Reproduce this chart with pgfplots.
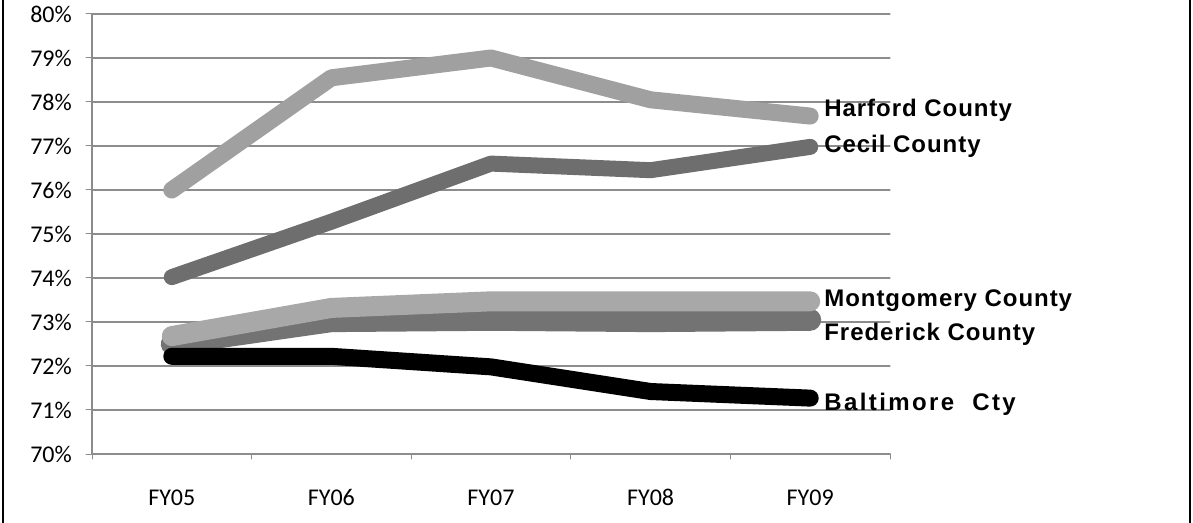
\documentclass[border=0pt]{standalone}
\usepackage{fontspec}
\setmainfont{Carlito}
\newfontfamily\lblfont{Liberation Sans}[LetterSpace=4]
\newfontfamily\lblwide{Liberation Sans}[LetterSpace=10]
\usepackage{pgfplots}
\pgfplotsset{compat=1.18}
\definecolor{harford}{RGB}{160,160,160}
\definecolor{cecil}{RGB}{110,110,110}
\definecolor{montg}{RGB}{168,168,168}
\definecolor{fred}{RGB}{115,115,115}
\definecolor{gridc}{RGB}{140,140,140}

\begin{document}
\begin{tikzpicture}
  \useasboundingbox (0,0) rectangle (1193bp,523bp);
  \draw[line width=2bp] (3bp,0) -- (3bp,523bp);
  \draw[line width=2bp] (1190bp,0) -- (1190bp,523bp);
  \begin{axis}[
      at={(92bp,69bp)}, anchor=south west,
      scale only axis, width=798bp, height=440bp,
      xmin=-0.5, xmax=4.5, ymin=70, ymax=80,
      axis x line*=bottom, axis y line*=left,
      axis line style={draw=gridc, line width=1.2bp, -},
      xtick={0,1,2,3,4},
      xticklabels={FY05,FY06,FY07,FY08,FY09},
      major x tick style={draw=none},
      minor xtick={-0.5,0.5,1.5,2.5,3.5,4.5},
      ytick={70,71,...,80},
      yticklabels={70\%,71\%,72\%,73\%,74\%,75\%,76\%,77\%,78\%,79\%,80\%},
      tick align=outside, major tick length=6bp, minor tick length=5bp,
      tick style={draw=gridc, line width=1bp},
      ymajorgrids, grid style={draw=gridc, line width=1.2bp},
      ticklabel style={font=\fontsize{24bp}{28bp}\selectfont, inner sep=0pt},
      yticklabel style={xshift=-14bp},
      xticklabel style={anchor=base, yshift=-45bp},
      clip=false,
      line cap=round, line join=round,
    ]
    \addplot[harford, line width=17bp] coordinates {(0,76.0) (1,78.55) (2,79.0) (3,78.05) (4,77.68)};
    \addplot[cecil, line width=16bp] coordinates {(0,74.02) (1,75.28) (2,76.6) (3,76.45) (4,76.98)};
    \addplot[fred, line width=22bp] coordinates {(0,72.5) (1,73.02) (2,73.05) (3,73.02) (4,73.05)};
    \addplot[montg, line width=20bp] coordinates {(0,72.68) (1,73.32) (2,73.47) (3,73.47) (4,73.47)};
    \addplot[black, line width=17bp] coordinates {(0,72.22) (1,72.22) (2,71.98) (3,71.42) (4,71.27)};

    \begin{scope}[every node/.style={anchor=base west, inner sep=0pt}]
      \node[font=\lblfont\bfseries\fontsize{24bp}{28bp}\selectfont] at (axis cs:4.0875,77.66) {Harford County};
      \node[font=\lblfont\bfseries\fontsize{24bp}{28bp}\selectfont] at (axis cs:4.0875,76.86) {Cecil County};
      \node[font=\lblfont\bfseries\fontsize{24bp}{28bp}\selectfont] at (axis cs:4.0875,73.36) {Montgomery County};
      \node[font=\lblfont\bfseries\fontsize{24bp}{28bp}\selectfont] at (axis cs:4.0875,72.57) {Frederick County};
      \node[font=\lblwide\bfseries\fontsize{24bp}{28bp}\selectfont] at (axis cs:4.0875,71.0) {Baltimore\ \ Cty};
    \end{scope}
  \end{axis}
\end{tikzpicture}
\end{document}
